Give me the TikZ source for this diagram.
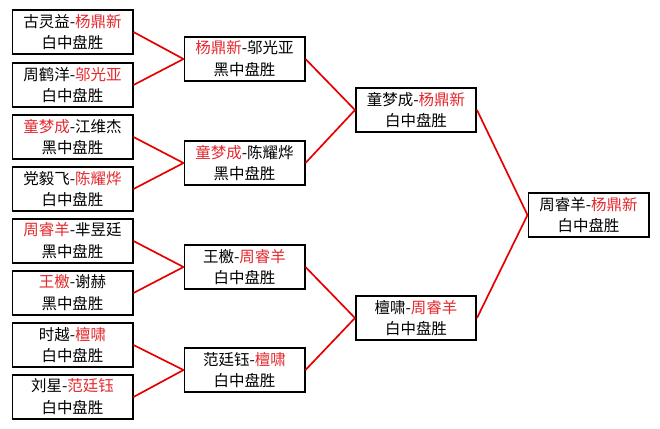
\documentclass[tikz,border=0pt]{standalone}
\usepackage{fontspec}
\newfontfamily\cjk{Noto Sans CJK SC}
\definecolor{winred}{RGB}{228,40,45}
\definecolor{linered}{RGB}{230,0,0}
\tikzset{
	match/.style={draw=black, line width=1.4pt, fill=white, minimum width=3.0cm, minimum height=1.12cm, inner sep=0pt, align=center, font=\cjk\fontsize{11}{15.5}\selectfont},
	link/.style={linered, line width=1.2pt}
}
\newcommand{\win}[1]{\textcolor{winred}{#1}}

\begin{document}
\begin{tikzpicture}[x=0.025cm,y=-0.025cm]
		\useasboundingbox (0,0) rectangle (660,429);
		
		% First round
		\node[match] (r1a) at (72.5,32) {古灵益-\win{杨鼎新}\\白中盘胜};
		\node[match] (r1b) at (72.5,85) {周鹤洋-\win{邬光亚}\\白中盘胜};
		\node[match] (r1c) at (72.5,137) {\win{童梦成}-江维杰\\黑中盘胜};
		\node[match] (r1d) at (72.5,189) {党毅飞-\win{陈耀烨}\\白中盘胜};
		\node[match] (r1e) at (72.5,241) {\win{周睿羊}-芈昱廷\\黑中盘胜};
		\node[match] (r1f) at (72.5,293) {\win{王檄}-谢赫\\黑中盘胜};
		\node[match] (r1g) at (72.5,345) {时越-\win{檀啸}\\白中盘胜};
		\node[match] (r1h) at (72.5,397) {刘星-\win{范廷钰}\\白中盘胜};
		
		% Second round
		\node[match] (r2a) at (244.5,59) {\win{杨鼎新}-邬光亚\\黑中盘胜};
		\node[match] (r2b) at (244.5,163) {\win{童梦成}-陈耀烨\\黑中盘胜};
		\node[match] (r2c) at (244.5,267) {王檄-\win{周睿羊}\\白中盘胜};
		\node[match] (r2d) at (244.5,370) {范廷钰-\win{檀啸}\\白中盘胜};
		
		% Semi-finals
		\node[match] (r3a) at (416,110) {童梦成-\win{杨鼎新}\\白中盘胜};
		\node[match] (r3b) at (416,318) {檀啸-\win{周睿羊}\\白中盘胜};
		
		% Final
		\node[match] (fin) at (588.5,215) {周睿羊-\win{杨鼎新}\\白中盘胜};
		
		% Links
		\foreach \a/\b in {r1a/r2a, r1b/r2a, r1c/r2b, r1d/r2b, r1e/r2c, r1f/r2c, r1g/r2d, r1h/r2d, r2a/r3a, r2b/r3a, r2c/r3b, r2d/r3b, r3a/fin, r3b/fin}
			\draw[link] (\a.east) -- (\b.west);
	\end{tikzpicture}
\end{document}
